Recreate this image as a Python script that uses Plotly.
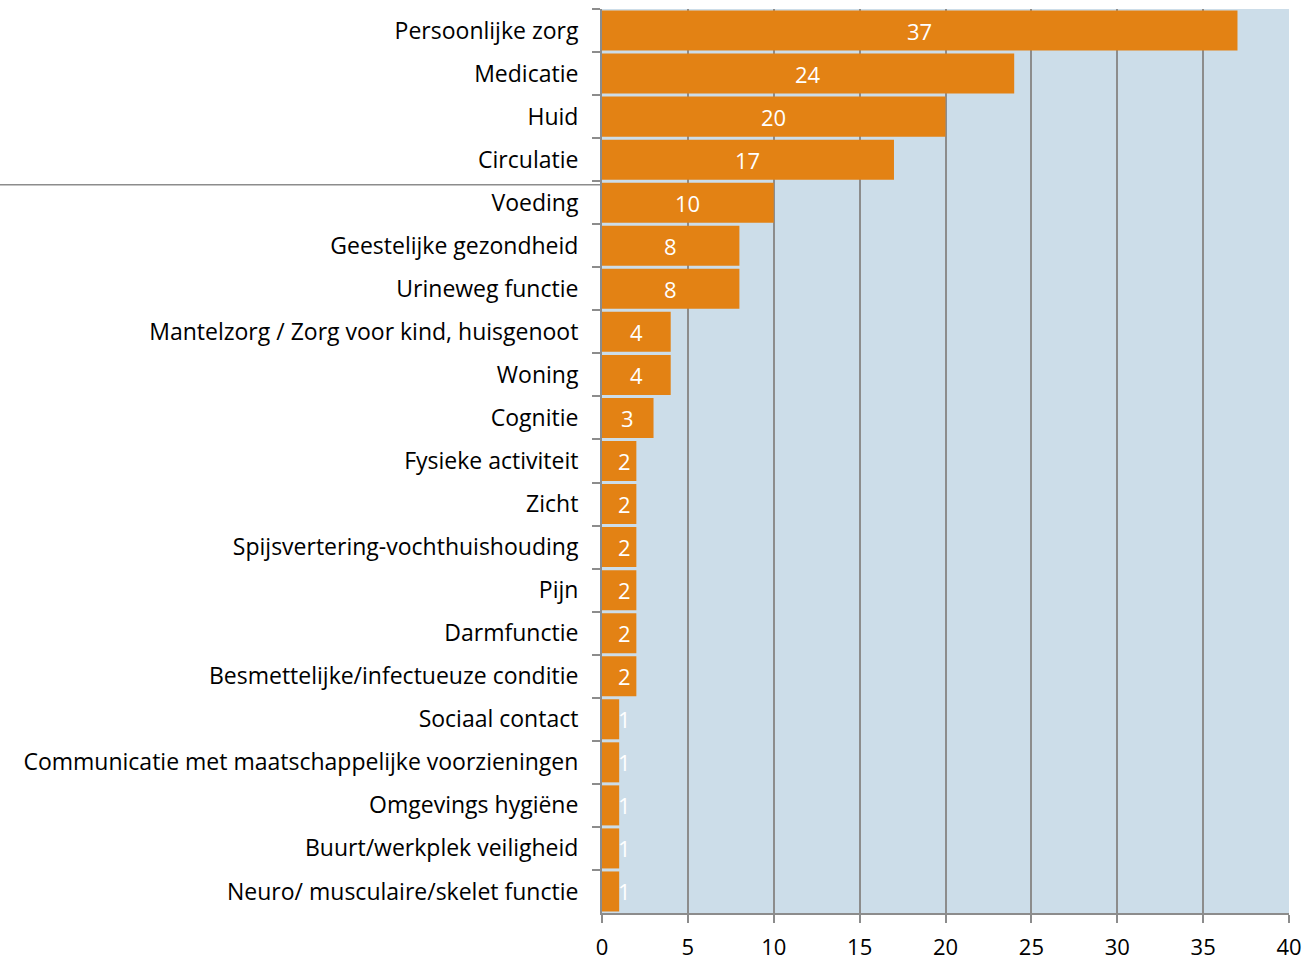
import plotly.graph_objects as go

categories = [
    "Persoonlijke zorg", "Medicatie", "Huid", "Circulatie", "Voeding",
    "Geestelijke gezondheid", "Urineweg functie",
    "Mantelzorg / Zorg voor kind, huisgenoot", "Woning", "Cognitie",
    "Fysieke activiteit", "Zicht", "Spijsvertering-vochthuishouding", "Pijn",
    "Darmfunctie", "Besmettelijke/infectueuze conditie", "Sociaal contact",
    "Communicatie met maatschappelijke voorzieningen", "Omgevings hygiëne",
    "Buurt/werkplek veiligheid", "Neuro/ musculaire/skelet functie",
]
values = [37, 24, 20, 17, 10, 8, 8, 4, 4, 3, 2, 2, 2, 2, 2, 2, 1, 1, 1, 1, 1]
x_ticks = [0, 5, 10, 15, 20, 25, 30, 35, 40]

ORANGE = "#E38214"
BG = "#CCDDE9"
GRID = "#8C8C8C"
FONT = "Open Sans"
FS = 23

fig = go.Figure(go.Bar(
    x=values, y=categories, orientation="h",
    marker=dict(color=ORANGE, line=dict(width=0)),
    hoverinfo="skip",
))

for c, v in zip(categories, values):
    fig.add_annotation(x=max(v / 2, 1.3), y=c, text=str(v), showarrow=False,
                       xref="x", yref="y",
                       font=dict(family=FONT, size=22, color="white"))

W, H = 1306, 960
L, R, T, B = 602, 17, 9, 47
pw = W - L - R

# separator line between "Circulatie" and "Voeding"
fig.add_shape(type="line", xref="paper", yref="y",
              x0=-L / pw, x1=0, y0=3.58, y1=3.58,
              line=dict(color="#8C8C8C", width=1.5), layer="above")

fig.update_layout(
    width=W, height=H,
    margin=dict(l=L, r=R, t=T, b=B, autoexpand=False),
    paper_bgcolor="white", plot_bgcolor=BG,
    bargap=0.07, showlegend=False,
    font=dict(family=FONT, size=FS, color="black"),
)
fig.update_xaxes(
    range=[0, 40], tickvals=x_ticks, ticktext=[str(t) for t in x_ticks],
    showgrid=True, gridcolor=GRID, gridwidth=2,
    showline=True, linecolor=GRID, linewidth=2, mirror=False,
    ticks="outside", ticklen=8, tickwidth=2, tickcolor=GRID,
    zeroline=False, fixedrange=True, automargin=False,
    ticklabelstandoff=6,
    tickfont=dict(family=FONT, size=22),
)
fig.update_yaxes(
    autorange="reversed", type="category",
    showline=True, linecolor=GRID, linewidth=2,
    ticks="outside", ticklen=8, tickwidth=2, tickcolor=GRID,
    tickson="boundaries", showgrid=False, automargin=False,
    ticklabelstandoff=17, fixedrange=True,
    tickfont=dict(family=FONT, size=FS),
)

fig.write_html(
    "out.html",
    config={"displayModeBar": False, "staticPlot": True},
    post_script="document.body.style.margin='0';document.body.style.overflow='hidden';",
)
